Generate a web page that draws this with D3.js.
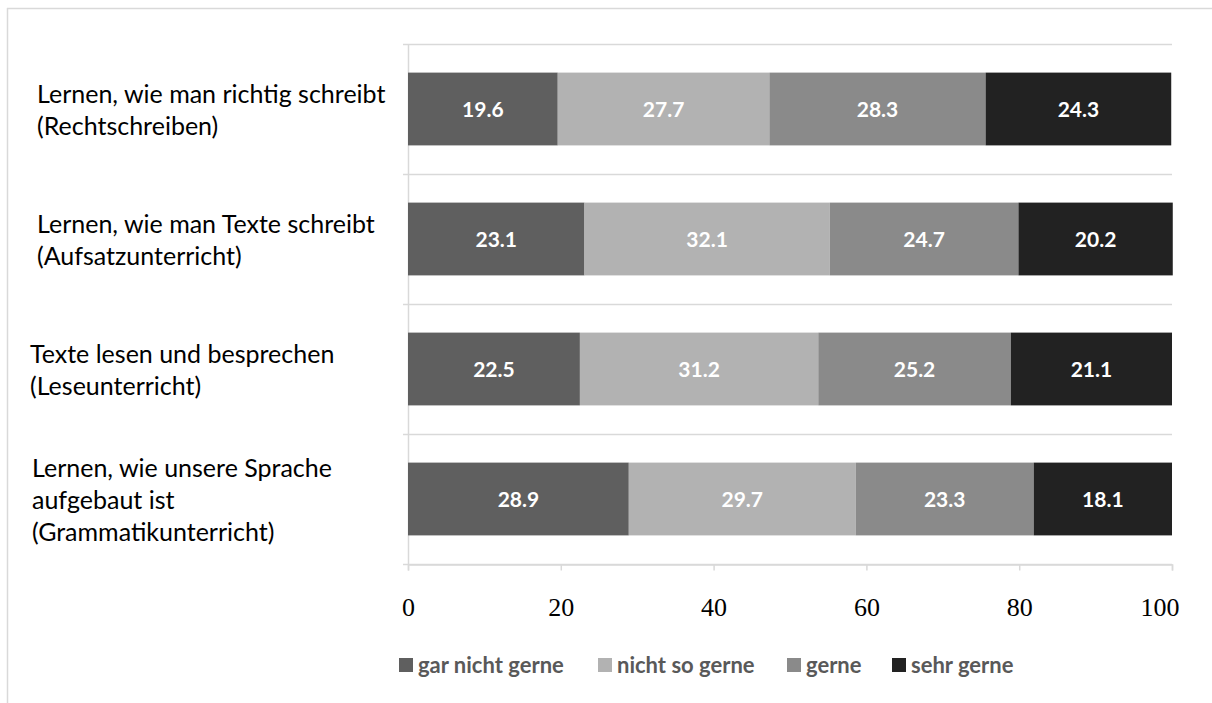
<!DOCTYPE html>
<html><head><meta charset="utf-8">
<script src="https://cdn.jsdelivr.net/npm/d3@7"></script>
<style>body{margin:0;background:#fff}svg{display:block}</style>
</head><body>
<svg id="c" width="1212" height="703"></svg>
<script>
const categories = [
  ["Lernen, wie man richtig schreibt", "(Rechtschreiben)"],
  ["Lernen, wie man Texte schreibt", "(Aufsatzunterricht)"],
  ["Texte lesen und besprechen", "(Leseunterricht)"],
  ["Lernen, wie unsere Sprache", "aufgebaut ist", "(Grammatikunterricht)"]
];
const seriesNames = ["gar nicht gerne", "nicht so gerne", "gerne", "sehr gerne"];
const garNichtGerne = [19.6, 23.1, 22.5, 28.9];
const nichtSoGerne = [27.7, 32.1, 31.2, 29.7];
const gerne = [28.3, 24.7, 25.2, 23.3];
const sehrGerne = [24.3, 20.2, 21.1, 18.1];
const xTicks = [0, 20, 40, 60, 80, 100];

(function () {
const colors = ["#5f5f5f", "#b2b2b2", "#8a8a8a", "#222222"];
const series = [garNichtGerne, nichtSoGerne, gerne, sehrGerne];

const svg = d3.select("#c");
const W = 1212, H = 703;
const pL = 408, pR = 1172, pT = 44, pB = 564;

svg.append("line").attr("x1", 7).attr("x2", W).attr("y1", 8.5).attr("y2", 8.5)
  .attr("stroke", "#d9d9d9").attr("stroke-width", 1.5);
svg.append("line").attr("x1", 7.5).attr("x2", 7.5).attr("y1", 8).attr("y2", H)
  .attr("stroke", "#d9d9d9").attr("stroke-width", 1.5);

const x = d3.scaleLinear().domain([0, 100]).range([pL, pR]);
const keys = categories.map((c, i) => i);
const y = d3.scaleBand().domain(keys).range([pT, pB]).paddingInner(0.44).paddingOuter(0.22);

const rows = keys.map(i => {
  const r = { i };
  seriesNames.forEach((s, j) => r[s] = series[j][i]);
  return r;
});
const stacked = d3.stack().keys(seriesNames)(rows);

const bounds = keys.map(i => y(i) - y.step() * y.paddingInner() / 2).concat([pB]);
bounds[0] = pT;
svg.append("g").selectAll("line").data(bounds).join("line")
  .attr("x1", pL - 5).attr("x2", pR)
  .attr("y1", d => Math.round(d) + 0.5).attr("y2", d => Math.round(d) + 0.5)
  .attr("stroke", "#d9d9d9").attr("stroke-width", 1.5);

svg.append("line").attr("x1", pL + 0.5).attr("x2", pL + 0.5).attr("y1", pT).attr("y2", pB)
  .attr("stroke", "#d9d9d9").attr("stroke-width", 1.5);

const xAxis = svg.append("g").attr("transform", `translate(0,${pB + 0.5})`)
  .call(d3.axisBottom(x).tickValues(xTicks).tickSize(6).tickPadding(27).tickFormat(d3.format("d")));
xAxis.select(".domain").attr("stroke", "#d9d9d9").attr("stroke-width", 1.5);
xAxis.selectAll(".tick line").attr("stroke", "#d9d9d9").attr("stroke-width", 1.5);
xAxis.selectAll(".tick text").attr("fill", "#000")
  .style("font-family", "'Liberation Serif', 'DejaVu Serif', serif").style("font-size", "26px");
xAxis.selectAll(".tick text").filter(d => d === 100).attr("text-anchor", "end").attr("x", 7);

const g = svg.append("g");
stacked.forEach((layer, j) => {
  g.append("g").selectAll("rect").data(layer).join("rect")
    .attr("x", d => x(d[0]))
    .attr("width", d => x(d[1]) - x(d[0]))
    .attr("y", (d, i) => y(i))
    .attr("height", y.bandwidth())
    .attr("fill", colors[j]);
  g.append("g").selectAll("text").data(layer).join("text")
    .attr("x", d => (x(d[0]) + x(d[1])) / 2)
    .attr("y", (d, i) => y(i) + y.bandwidth() / 2)
    .attr("dy", "0.4em")
    .attr("text-anchor", "middle")
    .attr("fill", "#fff")
    .style("font-family", "Lato, 'Open Sans', sans-serif")
    .style("font-weight", "bold")
    .style("font-size", "21px")
    .text(d => (d[1] - d[0]).toFixed(1));
});

const labelX = [37, 37, 30, 32];
categories.forEach((lines, i) => {
  const cy = y(i) + y.bandwidth() / 2;
  const lh = 32;
  const t = svg.append("text")
    .attr("fill", "#000")
    .style("font-family", "Lato, 'Open Sans', sans-serif")
    .style("font-size", "25px");
  lines.forEach((ln, k) => {
    t.append("tspan").attr("x", labelX[i])
      .attr("y", cy + (k - (lines.length - 1) / 2) * lh + 1)
      .attr("dy", "0.35em")
      .text(ln);
  });
});

const legendX = [399, 598, 787, 892];
const ly = 665;
const lg = svg.append("g");
seriesNames.forEach((s, j) => {
  lg.append("rect").attr("x", legendX[j]).attr("y", ly - 7).attr("width", 14).attr("height", 14)
    .attr("fill", colors[j]);
  lg.append("text").attr("x", legendX[j] + 19).attr("y", ly).attr("dy", "0.36em")
    .attr("fill", "#595959")
    .style("font-family", "Lato, 'Open Sans', sans-serif")
    .style("font-weight", "bold").style("font-size", "22px")
    .text(s);
});
})();
</script>
</body></html>
